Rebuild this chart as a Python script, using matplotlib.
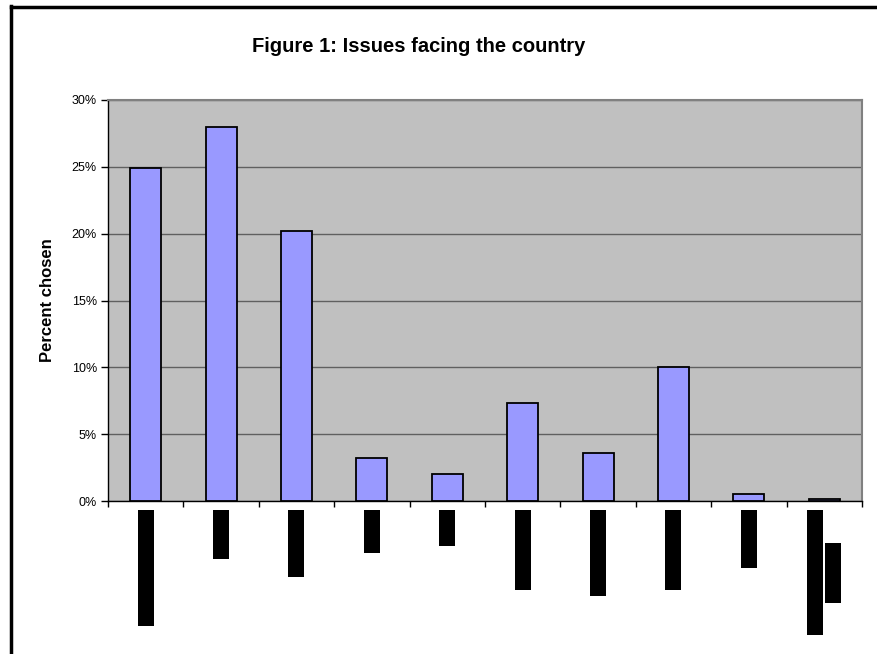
import matplotlib.pyplot as plt
from matplotlib.patches import Rectangle
from matplotlib.lines import Line2D
from matplotlib.ticker import PercentFormatter
import matplotlib.transforms as mtransforms

plt.rcParams['font.family'] = ['Liberation Sans', 'DejaVu Sans']

# share of respondents choosing each issue (%)
issues = list(range(1, 11))
percent = [24.9, 28.0, 20.2, 3.2, 2.0, 7.3, 3.6, 10.0, 0.5, 0.15]

# blacked-out category labels: length of each line (pixels)
label_lines = [[116], [49], [67], [43], [36], [80], [86], [80], [58], [125, 60]]

fig = plt.figure(figsize=(8.78, 6.54), dpi=100)
W, H = 878, 654
ax = fig.add_axes([108 / W, 1 - 501 / H, (862 - 108) / W, (501 - 100) / H])

x = [i - 0.5 for i in issues]
ax.bar(x, percent, width=0.41, color='#9999FF', edgecolor='black', linewidth=1.3, zorder=3)

ax.set_facecolor('#C0C0C0')
ax.set_xlim(0, 10)
ax.set_ylim(0, 30)
ax.set_yticks(range(0, 31, 5))
ax.yaxis.set_major_formatter(PercentFormatter(decimals=0))
ax.set_xticks(range(0, 11))
ax.set_xticklabels([])
ax.grid(axis='y', color='#606060', linewidth=1, zorder=1)
ax.tick_params(axis='y', direction='out', length=5, width=1, labelsize=9, pad=3)
ax.tick_params(axis='x', direction='out', length=4, width=1)
for side in ['top', 'right']:
    ax.spines[side].set_color('#808080')
    ax.spines[side].set_linewidth(1.5)
for side in ['left', 'bottom']:
    ax.spines[side].set_color('black')
    ax.spines[side].set_linewidth(1)

ax.set_ylabel('Percent chosen', fontsize=12, fontweight='bold', labelpad=12)

# black label blocks under each category
trans = mtransforms.blended_transform_factory(ax.transData, fig.transFigure)
col_w = 16 / 75.4
for xi, lines in zip(x, label_lines):
    n = len(lines)
    for k, length in enumerate(lines):
        cx = xi + (k - (n - 1) / 2) * (col_w * 1.12)
        top = 1 - 510 / H
        if k > 0:
            top = 1 - (510 + (lines[0] - length) / 2) / H
        fig.add_artist(Rectangle((cx - col_w / 2, top - length / H), col_w, length / H,
                                 transform=trans, facecolor='black', edgecolor='none'))

fig.text(419 / W, 1 - 47 / H, 'Figure 1: Issues facing the country',
         ha='center', va='center', fontsize=14.5, fontweight='bold')

# chart frame (left and top edges)
fig.add_artist(Line2D([11 / W, 11 / W], [0, 1 - 6 / H], color='black', linewidth=2.5))
fig.add_artist(Line2D([11 / W, 1], [1 - 6.5 / H, 1 - 6.5 / H], color='black', linewidth=2.5))

fig.savefig('out.png', dpi=100)
